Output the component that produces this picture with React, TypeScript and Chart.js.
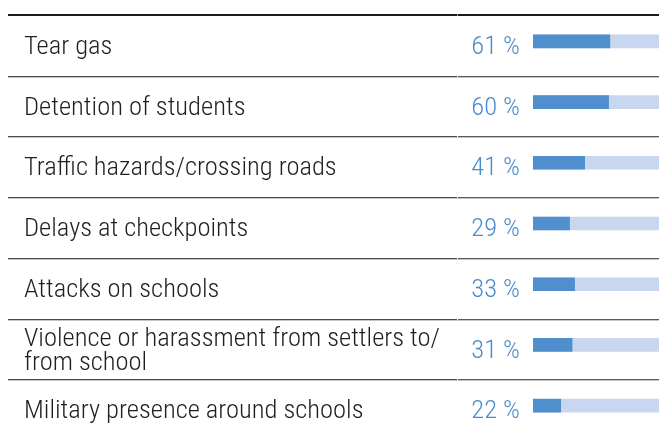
import React, { useEffect, useRef } from "react";
import { Chart, registerables } from "chart.js";

Chart.register(...registerables);

// ---- data ----
const categories: (string | string[])[] = [
  "Tear gas",
  "Detention of students",
  "Traffic hazards/crossing roads",
  "Delays at checkpoints",
  "Attacks on schools",
  ["Violence or harassment from settlers to/", "from school"],
  "Military presence around schools",
];
const values: number[] = [61, 60, 41, 29, 33, 31, 22];
const scaleMax = 100;
const percentLabels: string[] = values.map((v) => `${v} %`);
const trackValues: number[] = values.map(() => scaleMax);

// ---- styles ----
const FONT_FAMILY = '"Roboto Condensed", "Liberation Sans Narrow", Roboto, sans-serif';
const ROW_SHIFT = 4;
const LABEL_SHIFT = 6;

const tableLines = {
  id: "tableLines",
  afterDraw(chart: any) {
    const { ctx } = chart;
    const yScale = chart.scales.y;
    const n = categories.length;
    const pitch = yScale.getPixelForTick(1) - yScale.getPixelForTick(0);
    const left = 8;
    const split = 457;
    const right = chart.width;
    ctx.save();
    const top = Math.round(yScale.getPixelForTick(0) - pitch / 2 + ROW_SHIFT);
    ctx.fillStyle = "#1c1c1c";
    ctx.fillRect(left, top - 1, split - left, 2);
    ctx.fillRect(split + 1, top - 1, right - split - 1, 2);
    ctx.fillStyle = "#9a9a9a";
    ctx.fillRect(split, top - 1, 1, 2);
    for (let i = 1; i < n; i++) {
      const yy = Math.round(yScale.getPixelForTick(i) - pitch / 2 + ROW_SHIFT);
      ctx.fillStyle = "#4a4a4a";
      ctx.fillRect(left, yy, split - left, 1);
      ctx.fillStyle = "#5a5a5a";
      ctx.fillRect(split + 1, yy, right - split - 1, 1);
      ctx.fillStyle = "rgba(90,90,90,0.35)";
      ctx.fillRect(left, yy + 1, right - left, 1);
    }
    ctx.restore();
  },
};

const zeroPad = (s: any, width: number) => {
  s.width = width;
  s.paddingTop = 0;
  s.paddingBottom = 0;
};

export default function App() {
  const ref = useRef<HTMLCanvasElement | null>(null);
  useEffect(() => {
    if (!ref.current) return;
    const chart = new Chart(ref.current, {
      type: "bar",
      data: {
        labels: categories as any,
        datasets: [
          {
            label: "Share",
            data: values,
            backgroundColor: "#4f8fcd",
            borderWidth: 0,
            barThickness: 13,
            grouped: false,
            xAxisID: "x",
            yAxisID: "y",
          },
          {
            label: "Track",
            data: trackValues,
            backgroundColor: "#c8d6ef",
            borderWidth: 0,
            barThickness: 13,
            grouped: false,
            xAxisID: "x",
            yAxisID: "y",
          },
        ],
      },
      options: {
        indexAxis: "y",
        responsive: false,
        maintainAspectRatio: false,
        animation: false,
        devicePixelRatio: 1,
        layout: { padding: { left: 24, top: 11, right: 0, bottom: 0 } },
        plugins: {
          legend: { display: false },
          tooltip: { enabled: false },
          title: { display: false },
        },
        scales: {
          x: { type: "linear", min: 0, max: scaleMax, display: false },
          y: {
            type: "category",
            position: "left",
            weight: 1,
            offset: true,
            grid: { display: false, drawTicks: false },
            border: { display: false },
            ticks: {
              crossAlign: "far",
              labelOffset: LABEL_SHIFT,
              padding: 0,
              color: "#1f1f1f",
              autoSkip: false,
              font: { family: FONT_FAMILY, size: 26.5, weight: "300", lineHeight: "24px" },
            },
            afterFit: (s: any) => zeroPad(s, 422),
          },
          yPct: {
            type: "category",
            labels: percentLabels,
            position: "left",
            weight: 0,
            offset: true,
            grid: { display: false, drawTicks: false },
            border: { display: false },
            ticks: {
              labelOffset: LABEL_SHIFT,
              padding: 13,
              color: "#4a8bcc",
              autoSkip: false,
              font: { family: FONT_FAMILY, size: 26.5, weight: "300" },
            },
            afterFit: (s: any) => zeroPad(s, 87),
          },
        },
      } as any,
      plugins: [tableLines],
    });
    return () => chart.destroy();
  }, []);
  return (
    <canvas
      ref={ref}
      width={659}
      height={436}
      style={{ position: "fixed", left: 0, top: 0, width: 659, height: 436, background: "#ffffff" }}
    />
  );
}
